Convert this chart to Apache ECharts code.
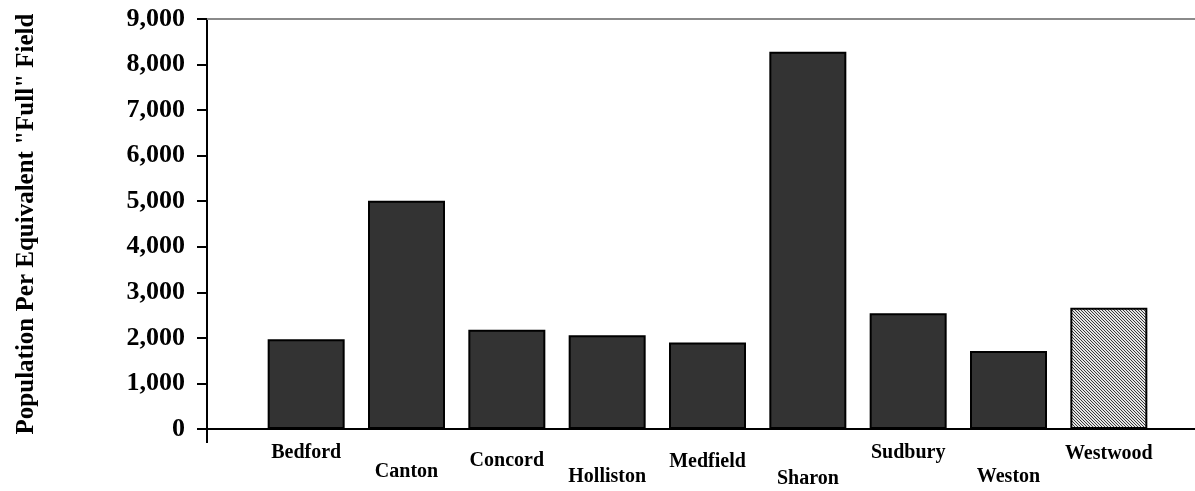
<!DOCTYPE html>
<html>
<head>
<meta charset="utf-8">
<title>Population Per Equivalent "Full" Field</title>
<script src="https://cdn.jsdelivr.net/npm/echarts@6/dist/echarts.min.js"></script>
<style>
  html, body { margin: 0; padding: 0; background: #fff; }
  #chart { width: 1195px; height: 491px; }
</style>
</head>
<body>
<div id="chart"></div>
<script>
// Towns compared and their population per equivalent "full" field
const towns = ['Bedford', 'Canton', 'Concord', 'Holliston', 'Medfield', 'Sharon', 'Sudbury', 'Weston', 'Westwood'];
const populationPerField = [1970, 5010, 2180, 2060, 1900, 8280, 2540, 1710, 2660];
const highlightedTown = 'Westwood';
const yTicks = [0, 1000, 2000, 3000, 4000, 5000, 6000, 7000, 8000, 9000];

// Vertical drop (px) of each staggered town name below the axis
const labelDrop = [0, 19, 8, 24, 9, 26, 0, 24, 1];

const SERIF = "'Liberation Serif', 'Times New Roman', Times, serif";

// Fine diagonal hatch used for the highlighted town
function hatchPattern() {
  const c = document.createElement('canvas');
  c.width = 3; c.height = 3;
  const ctx = c.getContext('2d');
  for (let y = 0; y < 3; y++) {
    for (let x = 0; x < 3; x++) {
      ctx.fillStyle = ((x - y + 3) % 3 === 0) ? '#3a3a3a' : '#e4e4e4';
      ctx.fillRect(x, y, 1, 1);
    }
  }
  return c;
}
const hatch = hatchPattern();

const rich = {};
labelDrop.forEach((d, i) => {
  rich['r' + i] = {
    padding: [d, 0, 0, 0],
    fontFamily: SERIF, fontWeight: 'bold', fontSize: 20, color: '#000'
  };
});

const chart = echarts.init(document.getElementById('chart'));
chart.setOption({
  animation: false,
  backgroundColor: '#fff',
  grid: [
    // frame: value axis, baseline and top rule
    { left: 207, right: 0, top: 19, bottom: 62, containLabel: false },
    // bars
    { left: 256, right: 36, top: 19, bottom: 62, containLabel: false }
  ],
  xAxis: [
    {
      gridIndex: 0, type: 'value', min: 0, max: 1, interval: 1, position: 'bottom',
      axisLine: { show: true, onZero: false, lineStyle: { color: '#000', width: 2 } },
      axisTick: { show: true, inside: false, length: 14, customValues: [0], lineStyle: { color: '#000', width: 2 } },
      axisLabel: { show: false }, splitLine: { show: false }
    },
    {
      gridIndex: 0, type: 'value', min: 0, max: 1, position: 'top',
      axisLine: { show: true, onZero: false, lineStyle: { color: '#8a8a8a', width: 2 } },
      axisTick: { show: false }, axisLabel: { show: false }, splitLine: { show: false }
    },
    {
      gridIndex: 1, type: 'category', data: towns, boundaryGap: true,
      axisLine: { show: false }, axisTick: { show: false },
      axisLabel: {
        interval: 0, margin: 14, verticalAlign: 'top',
        formatter: (v, i) => '{r' + i + '|' + v + '}',
        rich: rich
      }
    }
  ],
  yAxis: [
    {
      gridIndex: 0, type: 'value', min: yTicks[0], max: yTicks[yTicks.length - 1], interval: 1000,
      name: 'Population Per Equivalent "Full" Field',
      nameLocation: 'middle', nameGap: 168, nameRotate: 90,
      nameTextStyle: { fontFamily: SERIF, fontWeight: 'bold', fontSize: 25, color: '#000' },
      axisLine: { show: true, onZero: false, lineStyle: { color: '#000', width: 2 } },
      axisTick: { show: true, inside: false, length: 10, lineStyle: { color: '#000', width: 2 } },
      axisLabel: {
        margin: 22, fontFamily: SERIF, fontWeight: 'bold', fontSize: 26, color: '#000',
        formatter: v => v.toLocaleString('en-US')
      },
      splitLine: { show: false }
    },
    {
      gridIndex: 1, type: 'value', min: yTicks[0], max: yTicks[yTicks.length - 1], interval: 1000,
      show: false
    }
  ],
  series: [{
    type: 'bar',
    xAxisIndex: 2, yAxisIndex: 1,
    barWidth: 77,
    data: populationPerField.map((v, i) => ({
      value: v,
      itemStyle: towns[i] === highlightedTown
        ? { color: { image: hatch, repeat: 'repeat' } }
        : {}
    })),
    itemStyle: { color: '#333333', borderColor: '#000', borderWidth: 2 },
    emphasis: { disabled: true }
  }]
});
</script>
</body>
</html>
